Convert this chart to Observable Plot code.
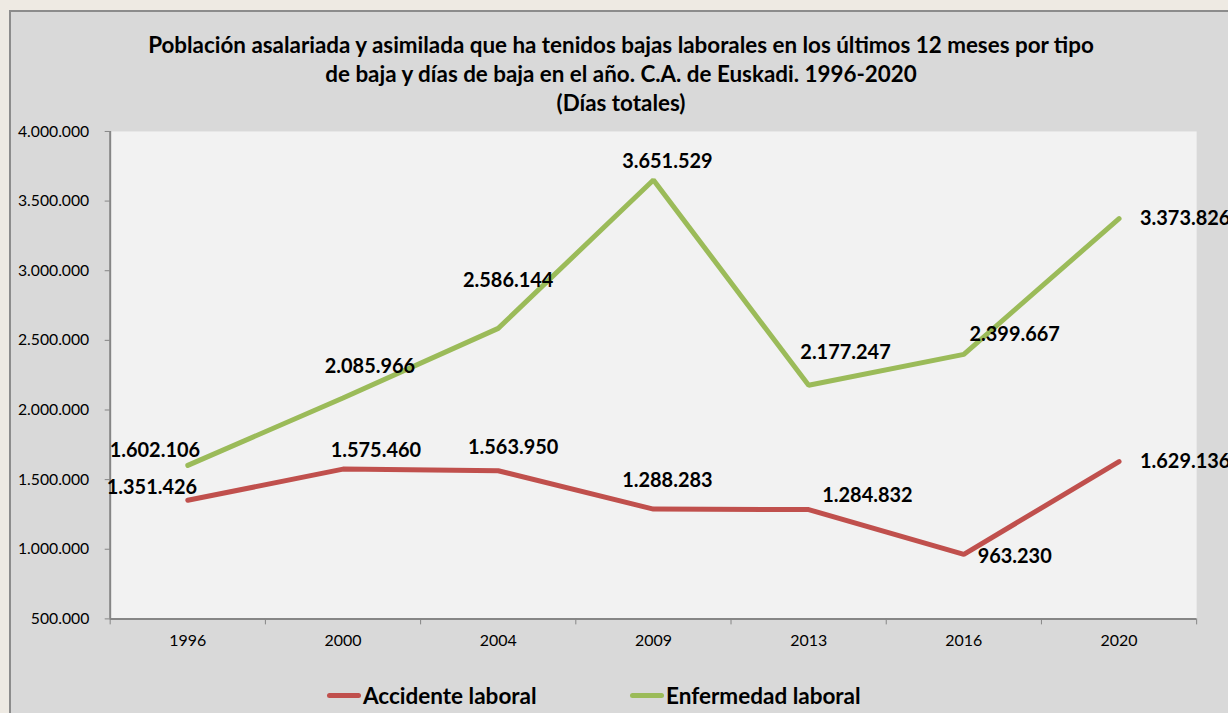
<!DOCTYPE html>
<html><head><meta charset="utf-8">
<script src="https://cdn.jsdelivr.net/npm/d3@7"></script>
<script src="https://cdn.jsdelivr.net/npm/@observablehq/plot@0.6"></script>
<style>
html,body{margin:0;padding:0;background:#eeeae3;width:1228px;height:713px;overflow:hidden;font-family:Lato,"Open Sans",sans-serif;}
#box{position:absolute;left:9px;top:10px;width:1240px;height:720px;background:#d9d9d9;border:2px solid #8c8c8c;box-sizing:border-box;}
#title{position:absolute;left:0;top:18px;width:1220px;text-align:center;font-weight:bold;font-size:22.4px;line-height:29px;color:#000;}
#chart{position:absolute;left:0;top:108px;}
#legend{position:absolute;top:669px;left:0;width:1220px;font-weight:bold;font-size:22.5px;color:#000;}
.li{position:absolute;display:flex;align-items:center;}
.sw{display:inline-block;width:34px;height:5px;border-radius:3px;margin-right:2px;}
</style></head>
<body>
<div id="box">
  <div id="title">Población asalariada y asimilada que ha tenidos bajas laborales en los últimos 12 meses por tipo<br>de baja y días de baja en el año. C.A. de Euskadi. 1996-2020<br>(Días totales)</div>
  <div id="chart"></div>
  <div id="legend">
    <div class="li" style="left:316px;top:1px"><span class="sw" style="background:#c0504d"></span>Accidente laboral</div>
    <div class="li" style="left:619px;top:1px"><span class="sw" style="background:#9bbb59"></span>Enfermedad laboral</div>
  </div>
</div>
<script>
const years = ["1996","2000","2004","2009","2013","2016","2020"];
const accidente = [1351426,1575460,1563950,1288283,1284832,963230,1629136];
const enfermedad = [1602106,2085966,2586144,3651529,2177247,2399667,3373826];
const yTicks = [500000,1000000,1500000,2000000,2500000,3000000,3500000,4000000];
const seriesNames = ["Accidente laboral","Enfermedad laboral"];
const seriesColors = ["#c0504d","#9bbb59"];

// label placement offsets (px) per point
const accDx = [-36,33,15,14,59,51,21], accDy = [-13,-19,-23,-29,-14,2,0];
const enfDx = [-33,27,10,14,37,51,21], enfDy = [-15,-32,-48,-18,-33,-20,0];

const fmt = v => d3.format(",")(v).replace(/,/g,".");
const rows = [];
years.forEach((y,i)=>{
  rows.push({s:seriesNames[0], i, year:y, v:accidente[i], dx:accDx[i], dy:accDy[i]});
  rows.push({s:seriesNames[1], i, year:y, v:enfermedad[i], dx:enfDx[i], dy:enfDy[i]});
});
const bounds = d3.range(years.length+1).map(k=>k-0.5);

const labelMarks = rows.map(d => Plot.text([d],{
  x:"i", y:"v", text:r=>fmt(r.v), dx:d.dx, dy:d.dy,
  textAnchor: d.i===years.length-1 ? "start" : "middle",
  fontWeight:"bold", fontSize:20, fill:"#000"
}));

const chart = Plot.plot({
  width: 1240, height: 550,
  marginLeft: 99, marginRight: 51, marginTop: 11, marginBottom: 50,
  style:{background:"transparent", fontFamily:"Lato, 'Open Sans', sans-serif", overflow:"visible"},
  x:{domain:[-0.5, years.length-0.5], axis:null},
  y:{domain:[500000,4000000], axis:null},
  color:{domain:seriesNames, range:seriesColors},
  marks:[
    Plot.frame({fill:"#f2f2f2", stroke:null}),
    Plot.ruleX([-0.5],{stroke:"#868686", strokeWidth:2}),
    Plot.ruleY([500000],{stroke:"#868686", strokeWidth:2}),
    Plot.axisY({ticks:yTicks, tickFormat:fmt, tickSize:5, tickPadding:16, stroke:"#868686", fontSize:15.8, color:"#000", label:null}),
    Plot.axisX({ticks:bounds, tickFormat:()=>"", tickSize:6, stroke:"#868686", label:null}),
    Plot.axisX({ticks:d3.range(years.length), tickFormat:i=>years[i], tickSize:0, tickPadding:16, fontSize:16, color:"#000", label:null}),
    Plot.line(rows,{x:"i", y:"v", z:"s", stroke:"s", strokeWidth:5, strokeLinecap:"round", strokeLinejoin:"miter"}),
    ...labelMarks
  ]
});
document.getElementById("chart").appendChild(chart);
</script>
</body></html>
